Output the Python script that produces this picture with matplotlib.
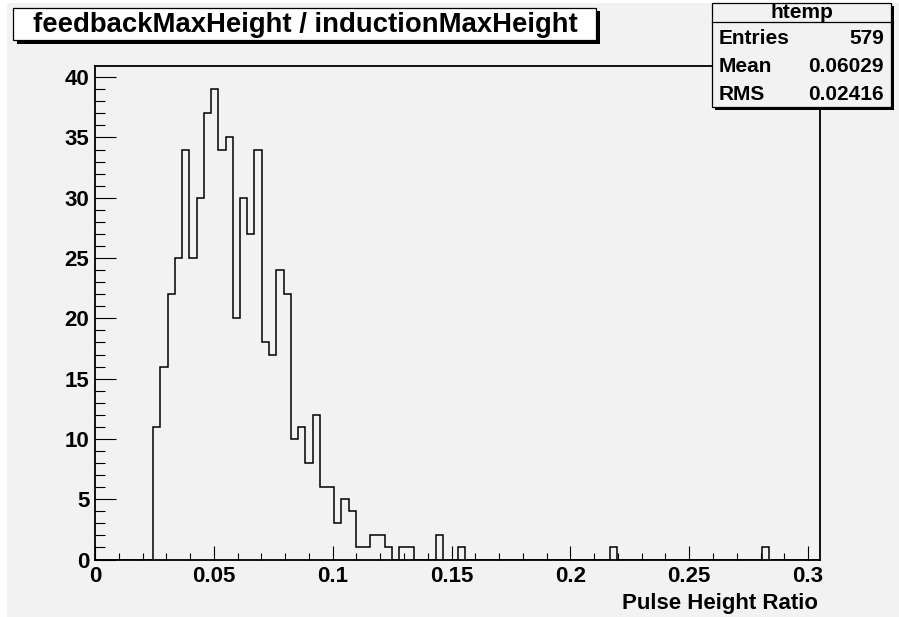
import numpy as np
import matplotlib
matplotlib.use("Agg")
import matplotlib.pyplot as plt
from matplotlib.patches import Rectangle
from matplotlib.ticker import MultipleLocator, FuncFormatter

plt.rcParams["font.family"] = ["Liberation Sans", "DejaVu Sans"]
plt.rcParams["font.weight"] = "bold"

W, H = 899, 617
canvas_grey = "#f2f2f2"

# histogram "htemp": 100 bins between x_min and x_max
x_min, x_max = 0.0, 0.305
n_bins = 100
y_max = 40.95

# non-empty bins (bin number, entries)
bin_index = [8, 9, 10, 11, 12, 13, 14, 15, 16, 17,
             18, 19, 20, 21, 22, 23, 24, 25, 26, 27,
             28, 29, 30, 31, 32, 33, 34, 35, 36, 37,
             38, 39, 40, 42, 43, 47, 50, 71, 92]
bin_count = [11, 16, 22, 25, 34, 25, 30, 37, 39, 34,
             35, 20, 30, 27, 34, 18, 17, 24, 22, 10,
             11, 8, 12, 6, 6, 3, 5, 4, 1, 1,
             2, 2, 1, 1, 1, 2, 1, 1, 1]

title = "feedbackMaxHeight / inductionMaxHeight"
x_label = "Pulse Height Ratio"
stats_name = "htemp"
stats_keys = ["Entries", "Mean", "RMS"]
stats_vals = ["579", "0.06029", "0.02416"]

counts = np.zeros(n_bins)
counts[bin_index] = bin_count
edges = np.linspace(x_min, x_max, n_bins + 1)


def fx(px):
    return px / W


def fy(py):
    return 1 - py / H


fig = plt.figure(figsize=(W / 100, H / 100), dpi=100, facecolor="white")
# grey canvas (small white strip on left/top as in the original)
fig.add_artist(Rectangle((fx(7), 0), 1 - fx(7), fy(3), transform=fig.transFigure,
                         facecolor=canvas_grey, edgecolor="none", zorder=0))

left, right, top, bottom = 95, 820, 65.7, 559.5
ax = fig.add_axes([fx(left), fy(bottom), fx(right - left), (bottom - top) / H])
ax.set_facecolor("none")
ax.stairs(counts, edges, color="black", linewidth=1.1)
ax.set_xlim(x_min, x_max)
ax.set_ylim(0, y_max)

ax.xaxis.set_major_locator(MultipleLocator(0.05))
ax.xaxis.set_minor_locator(MultipleLocator(0.01))
ax.yaxis.set_major_locator(MultipleLocator(5))
ax.yaxis.set_minor_locator(MultipleLocator(1))
ax.xaxis.set_major_formatter(FuncFormatter(lambda v, p: "%g" % round(v, 4)))
ax.tick_params(axis="y", which="major", direction="in", length=15, width=0.8,
               labelsize=16, pad=4)
ax.tick_params(axis="y", which="minor", direction="in", length=7.2, width=0.8)
ax.tick_params(axis="x", which="major", direction="in", length=10, width=0.8,
               labelsize=16, pad=5)
ax.tick_params(axis="x", which="minor", direction="in", length=5, width=0.8)
for lab in ax.get_xticklabels() + ax.get_yticklabels():
    lab.set_fontweight("bold")
for s in ax.spines.values():
    s.set_linewidth(1.3)

fig.text(fx(818), fy(609), x_label, ha="right", va="baseline",
         fontsize=16, fontweight="bold")

# boxes with a shadow, ROOT style
def pave(x0, y0, x1, y1, face, z, sh=3):
    fig.add_artist(Rectangle((fx(x0 + sh), fy(y1 + sh)), fx(x1 - x0), (y1 - y0) / H,
                             transform=fig.transFigure, facecolor="black",
                             edgecolor="none", zorder=z))
    fig.add_artist(Rectangle((fx(x0), fy(y1)), fx(x1 - x0), (y1 - y0) / H,
                             transform=fig.transFigure, facecolor=face,
                             edgecolor="black", linewidth=0.9, zorder=z + 0.1))


pave(13, 8, 596, 40, "white", 5, sh=3.5)
fig.text(fx(305), fy(25), title, ha="center", va="center", fontsize=19.8,
         fontweight="bold", zorder=6)

# stats box
bx0, bx1, by0, by1 = 712, 891, 3, 107
pave(bx0, by0, bx1, by1, canvas_grey, 5)
fig.add_artist(plt.Line2D([fx(bx0), fx(bx1)], [fy(22), fy(22)], transform=fig.transFigure,
                          color="black", linewidth=0.9, zorder=6))
fig.text(fx((bx0 + bx1) / 2), fy(12), stats_name, ha="center", va="center",
         fontsize=15, fontweight="bold", zorder=6)
for i, (k, v) in enumerate(zip(stats_keys, stats_vals)):
    yy = 38 + i * 28.5
    fig.text(fx(bx0 + 7), fy(yy), k, ha="left", va="center", fontsize=15,
             fontweight="bold", zorder=6)
    fig.text(fx(bx1 - 7), fy(yy), v, ha="right", va="center", fontsize=15,
             fontweight="bold", zorder=6)

fig.savefig("out.png", dpi=100, facecolor=fig.get_facecolor())
